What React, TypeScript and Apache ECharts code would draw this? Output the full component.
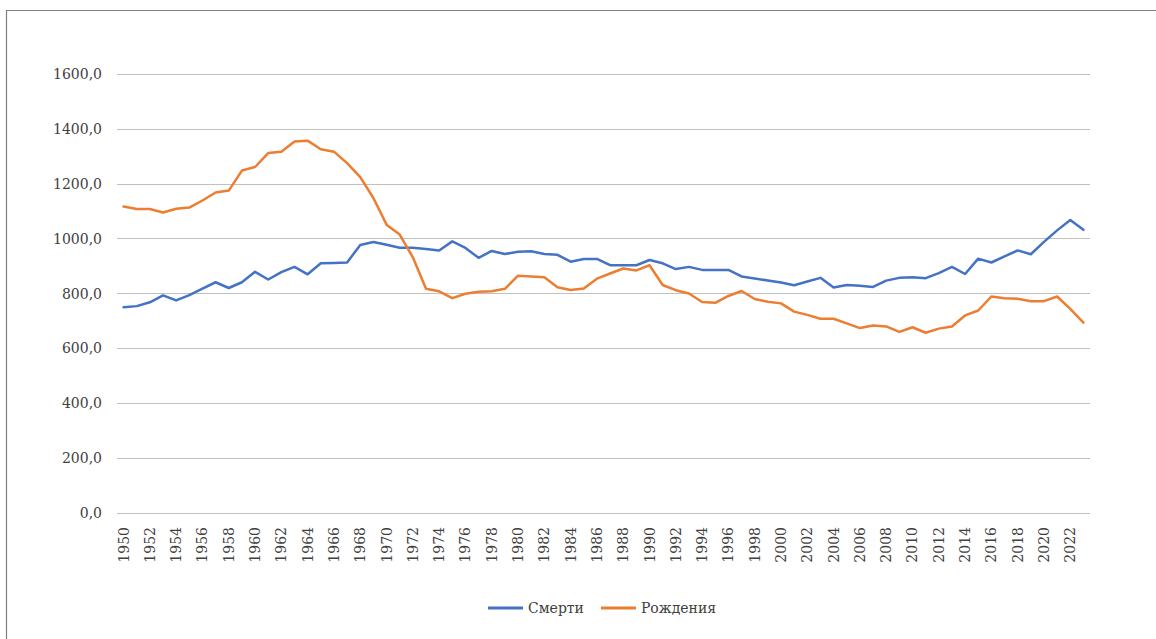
import React, { useEffect, useRef } from "react";
import * as echarts from "echarts";

const years: string[] = [];
for (let y = 1950; y <= 2023; y++) years.push(String(y));

const deaths = [
  750, 754, 768, 793, 775, 794, 818, 841, 820, 841,
  879, 851, 878, 897, 870, 910, 911, 913, 977, 988,
  978, 967, 967, 962, 957, 990, 966, 930, 955, 944,
  952, 954, 944, 941, 916, 926, 926, 903, 903, 903,
  922, 910, 889, 897, 886, 886, 886, 862, 855, 847,
  840, 830, 844, 857, 822, 831, 828, 824, 847, 857,
  859, 856, 874, 897, 871, 927, 913, 935, 957, 943,
  988, 1030, 1068, 1032,
];

const births = [
  1117, 1108, 1108, 1095, 1109, 1113, 1139, 1168, 1175, 1248,
  1261, 1312, 1317, 1354, 1357, 1326, 1317, 1275, 1224, 1148,
  1051, 1015, 932, 817, 808, 783, 799, 806, 808, 817,
  865, 862, 859, 823, 813, 818, 854, 873, 891, 884,
  903, 831, 812, 800, 769, 766, 791, 809, 780, 770,
  764, 734, 722, 708, 708, 691, 674, 683, 680, 660,
  677, 657, 672, 680, 720, 738, 789, 783, 781, 772,
  772, 789, 744, 694,
];

const seriesNames = ["Смерти", "Рождения"];

export default function App() {
  const ref = useRef<HTMLDivElement>(null);
  useEffect(() => {
    if (!ref.current) return;
    const chart = echarts.init(ref.current, null, { renderer: "svg" });
    const font = "'DejaVu Serif', serif";
    chart.setOption({
      animation: false,
      backgroundColor: "#ffffff",
      graphic: [
        {
          type: "rect",
          shape: { x: 6.5, y: 10.5, width: 1300, height: 800 },
          style: { fill: "none", stroke: "#7f7f7f", lineWidth: 1.2 },
          silent: true,
        },
      ],
      grid: { left: 117, right: 66, top: 74, bottom: 126, containLabel: false },
      legend: {
        left: 483,
        top: 596,
        icon: "rect",
        itemWidth: 35,
        itemHeight: 3,
        itemGap: 17,
        textStyle: { fontFamily: font, fontSize: 14, color: "#404040" },
        data: seriesNames,
      },
      xAxis: {
        type: "category",
        data: years,
        boundaryGap: true,
        axisLine: { show: false },
        axisTick: { show: false },
        axisLabel: {
          interval: 1,
          rotate: 90,
          margin: 14,
          fontFamily: font,
          fontSize: 14,
          color: "#404040",
        },
      },
      yAxis: {
        type: "value",
        min: 0,
        max: 1600,
        interval: 200,
        axisLine: { show: false },
        axisTick: { show: false },
        splitLine: { lineStyle: { color: "#c0c0c0", width: 1 } },
        axisLabel: {
          margin: 15,
          fontFamily: font,
          fontSize: 14,
          color: "#404040",
          formatter: (v: number) => v.toFixed(1).replace(".", ","),
        },
      },
      series: [
        {
          name: seriesNames[0],
          type: "line",
          data: deaths,
          showSymbol: false,
          symbol: "none",
          lineStyle: { color: "#4472C4", width: 2.5, cap: "round", join: "round" },
          itemStyle: { color: "#4472C4" },
        },
        {
          name: seriesNames[1],
          type: "line",
          data: births,
          showSymbol: false,
          symbol: "none",
          lineStyle: { color: "#ED7D31", width: 2.5, cap: "round", join: "round" },
          itemStyle: { color: "#ED7D31" },
        },
      ],
    });
    return () => chart.dispose();
  }, []);
  return (
    <div
      ref={ref}
      style={{ position: "absolute", left: 0, top: 0, width: 1156, height: 639 }}
    />
  );
}
